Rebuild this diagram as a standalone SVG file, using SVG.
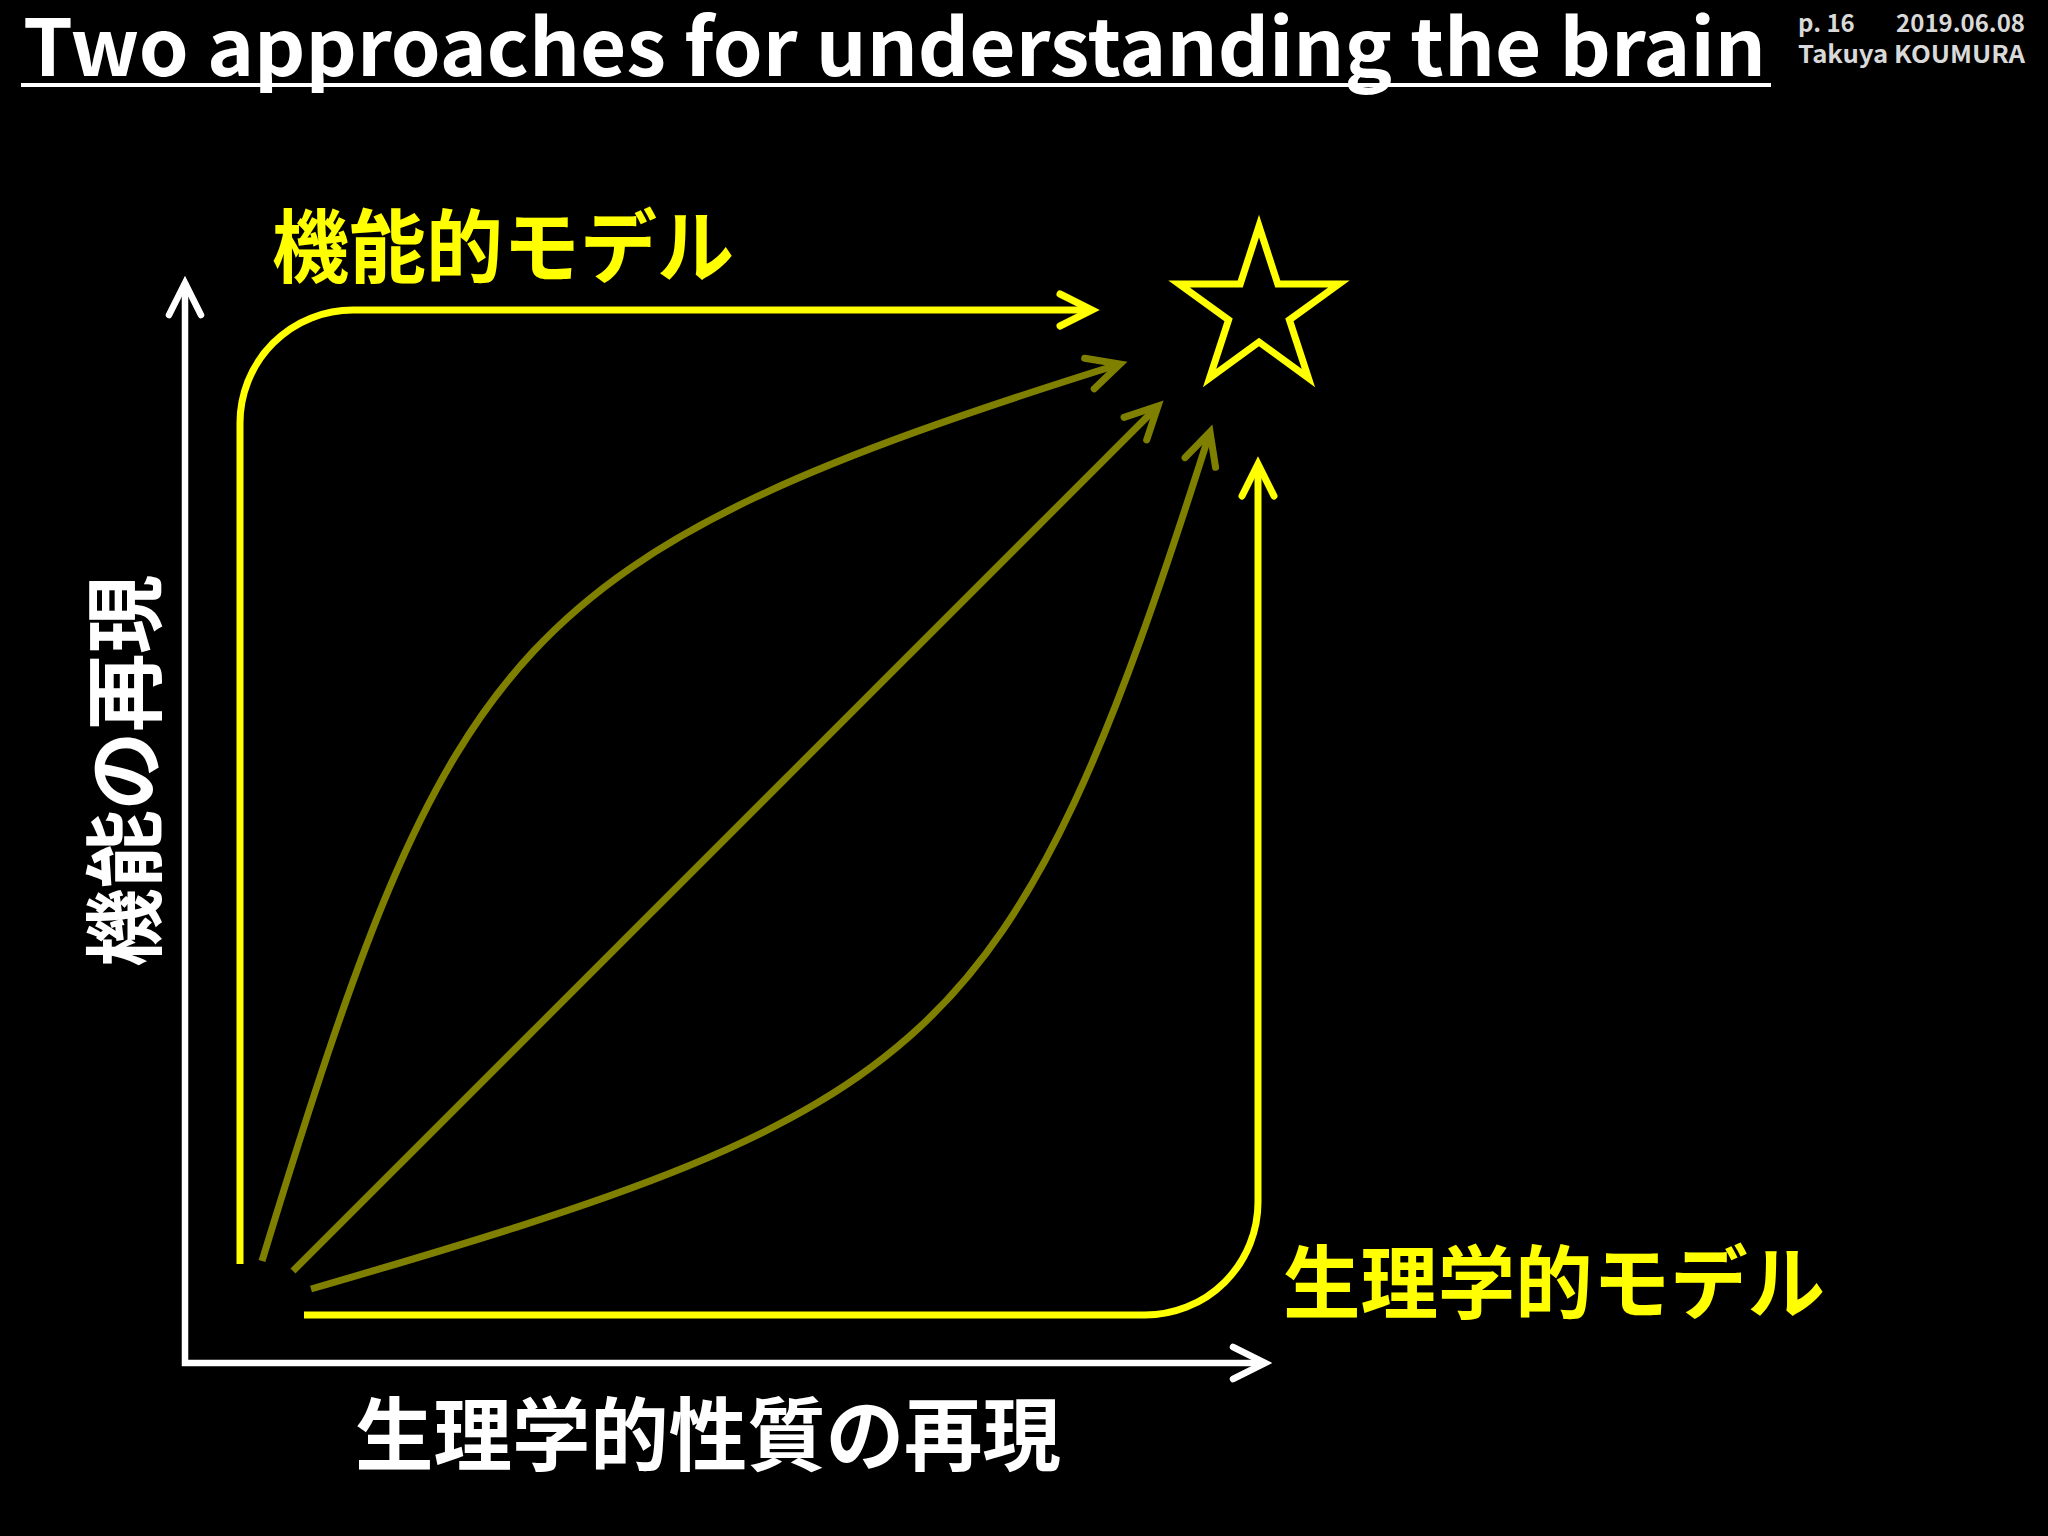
<svg xmlns="http://www.w3.org/2000/svg" width="2048" height="1536" viewBox="0 0 2048 1536">
<defs>
<style>
.ttl{font-family:"Noto Sans CJK JP","Noto Sans",sans-serif;font-weight:700;fill:#ffffff}
.meta{font-family:"Noto Sans CJK JP","Noto Sans",sans-serif;font-weight:700;fill:#d9d9d9;font-size:24px}
.lbl{font-family:"Noto Sans CJK JP",sans-serif;font-weight:700;font-size:80px}
.w{fill:#ffffff}
.y{fill:#ffff00}
.axis{fill:none;stroke:#ffffff;stroke-width:6.5;stroke-linejoin:miter}
.yl{fill:none;stroke:#ffff00;stroke-width:7}
.ol{fill:none;stroke:#808000;stroke-width:7}
</style>
<marker id="ahW" markerUnits="userSpaceOnUse" viewBox="-45 -25 55 50" markerWidth="55" markerHeight="50" refX="0" refY="0" orient="auto-start-reverse" overflow="visible">
<path d="M-32,-16 L0,0 L-32,16" fill="none" stroke="#ffffff" stroke-width="6.5" stroke-linecap="round" stroke-linejoin="miter"/>
</marker>
<marker id="ahY" markerUnits="userSpaceOnUse" viewBox="-45 -25 55 50" markerWidth="55" markerHeight="50" refX="0" refY="0" orient="auto" overflow="visible">
<path d="M-32,-16 L0,0 L-32,16" fill="none" stroke="#ffff00" stroke-width="7" stroke-linecap="round" stroke-linejoin="miter"/>
</marker>
<marker id="ahO" markerUnits="userSpaceOnUse" viewBox="-45 -25 55 50" markerWidth="55" markerHeight="50" refX="0" refY="0" orient="auto" overflow="visible">
<path d="M-32,-16 L0,0 L-32,16" fill="none" stroke="#808000" stroke-width="7" stroke-linecap="round" stroke-linejoin="miter"/>
</marker>
</defs>
<rect width="2048" height="1536" fill="#000000"/>

<g id="title">
<text class="ttl" x="23" y="76" font-size="78" textLength="1743" lengthAdjust="spacingAndGlyphs">Two approaches for understanding the brain</text>
<rect x="21" y="83" width="1750" height="4" fill="#ffffff"/>
</g>
<g id="meta">
<text class="meta" x="1798" y="32">p. 16</text>
<text class="meta" x="2025" y="32" text-anchor="end">2019.06.08</text>
<text class="meta" x="1798" y="63" textLength="227" lengthAdjust="spacingAndGlyphs">Takuya KOUMURA</text>
</g>

<g id="connectors">
<path id="axes" class="axis" d="M185,283 V1363 H1265" marker-start="url(#ahW)" marker-end="url(#ahW)"/>
<path id="functional-path" class="yl" d="M240,1264 V423 A113,113 0 0 1 353,310 H1092" marker-end="url(#ahY)"/>
<path id="physiological-path" class="yl" d="M304,1315 H1145 A113,113 0 0 0 1258,1202 V464" marker-end="url(#ahY)"/>
<path id="olive-upper" class="ol" d="M262,1261 C452,640 510,555 1120,364" marker-end="url(#ahO)"/>
<path id="olive-diagonal" class="ol" d="M293,1271 L1158,406" marker-end="url(#ahO)"/>
<path id="olive-lower" class="ol" d="M311,1289 C935,1108 1012,1056 1210,432" marker-end="url(#ahO)"/>
</g>

<g id="goal-star">
<polygon points="1259,226 1277.8,284.1 1338.9,284 1289.4,319.9 1308.4,378 1259,342 1209.6,378 1228.6,319.9 1179.1,284 1240.2,284.1" fill="none" stroke="#ffff00" stroke-width="7" stroke-linejoin="miter"/>
</g>

<g id="label-functional-model">
<text class="lbl y" x="272" y="276" textLength="462" lengthAdjust="spacingAndGlyphs">機能的モデル</text>
</g>
<g id="label-physiological-model">
<text class="lbl y" x="1283" y="1312" textLength="542" lengthAdjust="spacingAndGlyphs">生理学的モデル</text>
</g>
<g id="label-y-axis">
<text class="lbl w" transform="translate(154,967) rotate(-90)" x="0" y="0" textLength="392" lengthAdjust="spacingAndGlyphs">機能の再現</text>
</g>
<g id="label-x-axis">
<text class="lbl w" x="355" y="1464" textLength="706" lengthAdjust="spacingAndGlyphs">生理学的性質の再現</text>
</g>
</svg>
